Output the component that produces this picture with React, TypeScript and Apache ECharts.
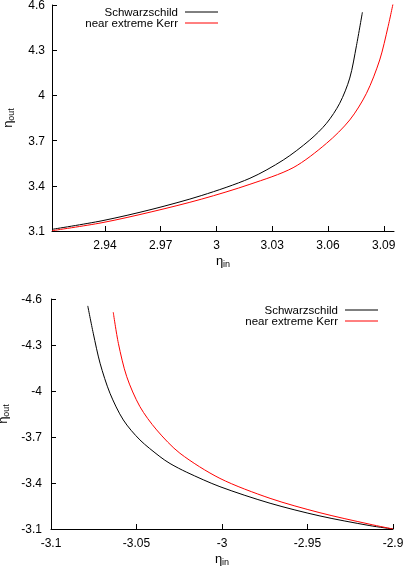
import React, { useEffect, useRef } from "react";
import * as echarts from "echarts";

// Top panel: eta_in vs eta_out
const topSchwX = [2.9115, 2.9384, 2.9653, 2.9921, 3.018, 3.0359, 3.0502, 3.0592, 3.0663, 3.0717, 3.0753, 3.0785];
const topSchwY = [3.111, 3.168, 3.244, 3.336, 3.45, 3.571, 3.704, 3.815, 3.948, 4.115, 4.33, 4.552];
const topKerrX = [2.9115, 2.9384, 2.9653, 2.9921, 3.018, 3.0412, 3.0592, 3.0717, 3.0807, 3.0878, 3.0923, 3.0954];
const topKerrY = [3.102, 3.155, 3.228, 3.312, 3.41, 3.52, 3.682, 3.837, 4.014, 4.235, 4.456, 4.633];

// Bottom panel
const botSchwX = [-3.0785, -3.0753, -3.0713, -3.0655, -3.0577, -3.048, -3.0363, -3.0304, -3.0206, -3.0012, -2.9719, -2.9427, -2.9135, -2.9];
const botSchwY = [-4.555, -4.377, -4.181, -3.985, -3.811, -3.681, -3.572, -3.527, -3.47, -3.376, -3.268, -3.185, -3.122, -3.1];
const botKerrX = [-3.0636, -3.0606, -3.0557, -3.048, -3.0382, -3.0246, -3.0012, -2.9719, -2.9427, -2.9135, -2.9];
const botKerrY = [-4.514, -4.311, -4.093, -3.898, -3.746, -3.594, -3.43, -3.3, -3.206, -3.131, -3.1];

const topXTicks = [2.94, 2.97, 3, 3.03, 3.06, 3.09];
const topYTicks = [3.1, 3.4, 3.7, 4, 4.3, 4.6];
const botXTicks = [-3.1, -3.05, -3, -2.95, -2.9];
const botYTicks = [-4.6, -4.3, -4, -3.7, -3.4, -3.1];

const seriesNames = ["Schwarzschild", "near extreme Kerr"];
const seriesColors = ["#000000", "#ff0000"];

const zip = (xs: number[], ys: number[]) => xs.map((x, i) => [x, ys[i]]);
const FONT = "Liberation Sans, Arial, Helvetica, sans-serif";
const fmt = (v: number) => String(+(+v).toFixed(2));

export default function App() {
  const ref = useRef<HTMLDivElement>(null);
  useEffect(() => {
    if (!ref.current) return;
    const chart = echarts.init(ref.current, null, { renderer: "svg" });
    const axisCommon = {
      type: "value" as const,
      splitLine: { show: false },
      axisLine: { show: true, onZero: false, lineStyle: { color: "#000", width: 1 } },
      axisTick: { show: true, inside: true, length: 5, lineStyle: { color: "#000" } },
      axisLabel: { color: "#000", fontSize: 12, fontFamily: FONT, formatter: fmt },
      nameLocation: "middle" as const,
      nameTextStyle: {
        color: "#000",
        fontFamily: FONT,
        rich: {
          a: { fontSize: 13, fontFamily: FONT, color: "#000" },
          s: { fontSize: 9, fontFamily: FONT, color: "#000", padding: [7, 0, 0, 0] },
        },
      },
    };
    const legendItems = (xRight: number, y: number) => {
      const out: any[] = [];
      seriesNames.forEach((n, i) => {
        const yy = y + i * 11;
        out.push({
          type: "text",
          x: xRight,
          y: yy,
          style: { text: n, fill: "#000", font: `11.5px ${FONT}`, textAlign: "right", textVerticalAlign: "middle" },
        });
        out.push({
          type: "line",
          shape: { x1: xRight + 7, y1: yy, x2: xRight + 40, y2: yy },
          style: { stroke: seriesColors[i], lineWidth: 1 },
        });
      });
      return out;
    };
    chart.setOption({
      animation: false,
      grid: [
        { left: 52, top: 5, width: 342, height: 226, outerBoundsMode: "none", containLabel: false },
        { left: 51, top: 299, width: 342, height: 230, outerBoundsMode: "none", containLabel: false },
      ],
      xAxis: [
        {
          ...axisCommon,
          gridIndex: 0,
          min: 2.9115,
          max: 3.0955,
          axisTick: { ...axisCommon.axisTick, customValues: topXTicks },
          axisLabel: { ...axisCommon.axisLabel, customValues: topXTicks, margin: 8 },
          name: "{a|η}{s|in}",
          nameGap: 21,
        },
        {
          ...axisCommon,
          gridIndex: 1,
          min: -3.1,
          max: -2.9,
          axisTick: { ...axisCommon.axisTick, customValues: botXTicks },
          axisLabel: { ...axisCommon.axisLabel, customValues: botXTicks, margin: 8 },
          name: "{a|η}{s|in}",
          nameGap: 21,
        },
      ],
      yAxis: [
        {
          ...axisCommon,
          gridIndex: 0,
          min: 3.1,
          max: 4.6,
          axisTick: { ...axisCommon.axisTick, customValues: topYTicks },
          axisLabel: { ...axisCommon.axisLabel, customValues: topYTicks, margin: 7 },
          name: "{a|η}{s|out}",
          nameRotate: 90,
          nameGap: 37,
        },
        {
          ...axisCommon,
          gridIndex: 1,
          min: -4.6,
          max: -3.1,
          inverse: true,
          axisTick: { ...axisCommon.axisTick, customValues: botYTicks },
          axisLabel: { ...axisCommon.axisLabel, customValues: botYTicks, margin: 9 },
          name: "{a|η}{s|out}",
          nameRotate: 90,
          nameGap: 35,
        },
      ],
      series: [
        { name: seriesNames[0], type: "line", xAxisIndex: 0, yAxisIndex: 0, data: zip(topSchwX, topSchwY) },
        { name: seriesNames[1], type: "line", xAxisIndex: 0, yAxisIndex: 0, data: zip(topKerrX, topKerrY) },
        { name: seriesNames[0], type: "line", xAxisIndex: 1, yAxisIndex: 1, data: zip(botSchwX, botSchwY) },
        { name: seriesNames[1], type: "line", xAxisIndex: 1, yAxisIndex: 1, data: zip(botKerrX, botKerrY) },
      ].map((s, i) => ({
        ...s,
        showSymbol: false,
        smooth: 0.3,
        lineStyle: { color: seriesColors[i % 2], width: 1 },
        itemStyle: { color: seriesColors[i % 2] },
      })),
      graphic: [...legendItems(178, 12), ...legendItems(338, 310)],
    });
    return () => chart.dispose();
  }, []);
  return <div ref={ref} style={{ position: "fixed", left: 0, top: 0, width: 403, height: 566 }} />;
}
